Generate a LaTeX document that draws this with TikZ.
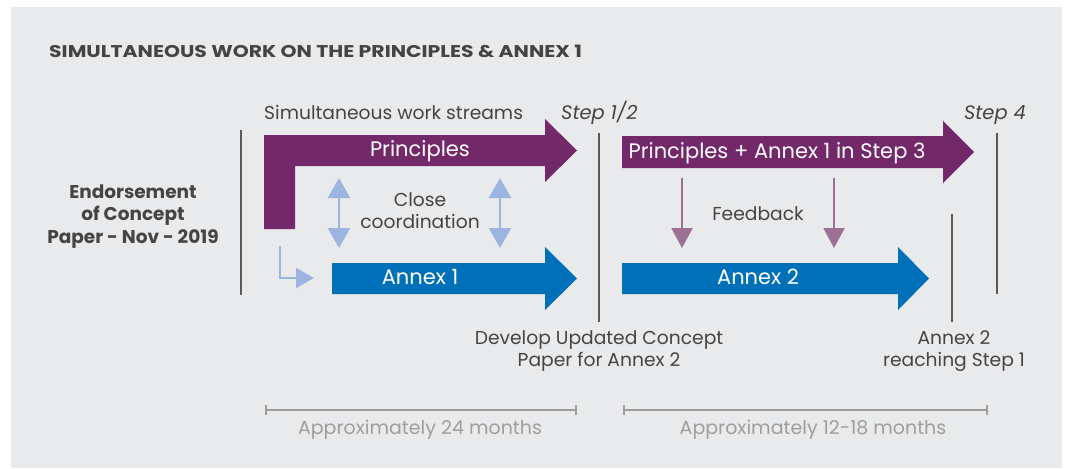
\documentclass[tikz,border=0pt]{standalone}
\usepackage{fontspec}
\setmainfont{Poppins}
\usepackage{tikz}
\usetikzlibrary{arrows.meta}

\definecolor{panel}{HTML}{E9EAEC}
\definecolor{plum}{HTML}{722869}
\definecolor{ocean}{HTML}{0070B9}
\definecolor{skyline}{HTML}{9CB4E0}
\definecolor{mauve}{HTML}{9C7095}
\definecolor{ink}{HTML}{444444}
\definecolor{rule}{HTML}{5A5A5A}
\definecolor{faint}{HTML}{9E9E9E}

\tikzset{
  label/.style={text=ink, font=\fontsize{18.7}{22}\selectfont, inner sep=0pt, align=center, anchor=base},
  inside/.style={text=white, font=\fontsize{21}{25}\selectfont, inner sep=0pt, anchor=base},
  stepmark/.style={text=ink, font=\fontsize{19.5}{23}\selectfont\itshape, inner sep=0pt},
  span/.style={text=faint, font=\fontsize{19}{23}\selectfont, inner sep=0pt, anchor=base},
  divider/.style={draw=rule, line width=1.6pt},
  linkup/.style={draw=skyline, line width=2.4pt,
    {Triangle[width=22pt,length=20pt]}-{Triangle[width=22pt,length=20pt]}},
  feed/.style={draw=mauve, line width=2.4pt, -{Triangle[width=21pt,length=20pt]}},
  bracket/.style={draw=faint, line width=1.6pt, |-|}
}

\begin{document}
\begin{tikzpicture}[x=1pt,y=-1pt]
          \useasboundingbox (0,0) rectangle (1067,468);
          \fill[white] (0,0) rectangle (1067,468);
          \fill[panel] (11,7) rectangle (1062,468);

          % title and the left column (multi-line labels sit on their last baseline)
          \node[anchor=base west, text=ink, inner sep=0pt,
            font=\fontsize{17}{20}\selectfont\bfseries\addfontfeatures{FakeStretch=1.2}] (title) at (49,58)
            {SIMULTANEOUS WORK ON THE PRINCIPLES \& ANNEX 1};
          \node[label, font=\fontsize{18.5}{22.5}\selectfont\bfseries] (endorse) at (133,243)
            {Endorsement\\of Concept\\Paper - Nov - 2019};
          \draw[divider] (241,130) -- (241,295);

          % first phase
          \node[label, anchor=base west] (streams) at (264,120) {Simultaneous work streams};
          \node[stepmark, anchor=base west] (stepA) at (561,120) {Step 1/2};
          \fill[plum] (264,135) -- (545,135) -- (545,119) -- (577,150.5) -- (545,182)
            -- (545,166) -- (295,166) -- (295,229) -- (264,229) -- cycle;
          \node[inside] (princ) at (420,156) {Principles};
          \fill[ocean] (332,263) -- (545,263) -- (545,247) -- (577,278.5) -- (545,310)
            -- (545,294) -- (332,294) -- cycle;
          \node[inside] (annexA) at (420,284) {Annex 1};
          \node[label] (coord) at (420,228) {Close\\coordination};

          \coordinate (linkA) at (339,178);
          \coordinate (linkB) at (500,178);
          \draw[linkup] (linkA) -- ++(0,70);
          \draw[linkup] (linkB) -- ++(0,70);
          \coordinate (elbow) at (280,246);
          \draw[draw=skyline, line width=2pt, -{Triangle[width=20pt,length=18pt]}]
            (elbow) |- (314,278);

          % second phase
          \draw[divider] (599,133) -- (599,322);
          \fill[plum] (622,136) -- (943,136) -- (943,121) -- (974,152) -- (943,183)
            -- (943,168) -- (622,168) -- cycle;
          \node[inside] (combo) at (777,158) {Principles + Annex 1 in Step 3};
          \fill[ocean] (622,263) -- (898,263) -- (898,247) -- (929,278.5) -- (898,310)
            -- (898,294) -- (622,294) -- cycle;
          \node[inside] (annexB) at (758,284) {Annex 2};
          \node[label] (feedback) at (758,220) {Feedback};
          \coordinate (feedA) at (682,178);
          \coordinate (feedB) at (834,178);
          \draw[feed] (feedA) -- ++(0,70);
          \draw[feed] (feedB) -- ++(0,70);

          \draw[divider] (952,214) -- (952,322);
          \draw[divider] (997,133) -- (997,294);
          \node[stepmark, anchor=base east] (stepB) at (1026,120) {Step 4};

          \node[label] (develop) at (599,366) {Develop Updated Concept\\Paper for Annex 2};
          \node[label] (reach) at (954,366) {Annex 2\\reaching Step 1};

          % durations
          \draw[bracket] (265,410) -- (577,410);
          \node[span] (periodA) at (420,434) {Approximately 24 months};
          \draw[bracket] (623,410) -- (988,410);
          \node[span] (periodB) at (813,434) {Approximately 12-18 months};
\end{tikzpicture}
\end{document}
